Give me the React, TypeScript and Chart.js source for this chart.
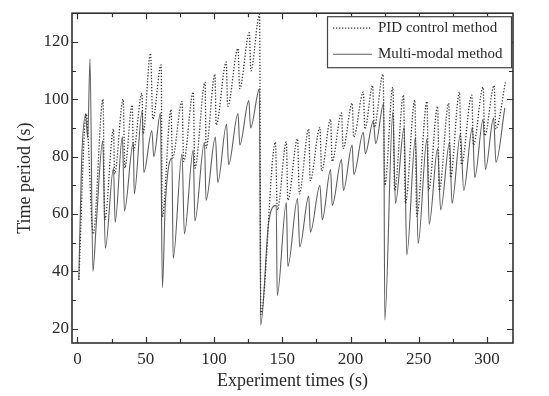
import React, { useEffect, useRef } from "react";
import { Chart, registerables } from "chart.js";

Chart.register(...registerables);

const xTicks = [0, 50, 100, 150, 200, 250, 300];
const yTicks = [20, 40, 60, 80, 100, 120];

const pidX = [1, 6.4, 7.2, 11.5, 18.7, 20, 26.4, 27.2, 33.5, 34.7, 40.1, 41, 47.2, 48.1, 53.5, 55.2, 61.3, 62.1,
  68.5, 69.6, 76.6, 77.8, 84.8, 86, 93.5, 94.2, 100.7, 101.6, 109, 110, 117.6, 118.8, 125.9, 127, 133.4, 134.3,
  145, 146.4, 153, 154.1, 161.2, 162.5, 169.4, 170.5, 177.6, 178.8, 185.4, 186.5, 193.4, 194.6, 201.2, 202.3,
  209.4, 210.5, 216.2, 217.4, 223.8, 225.2, 231, 232.3, 238.8, 240.2, 247.1, 248.5, 256, 257.2, 263.8, 265,
  271.9, 273.2, 279.8, 281.2, 288.8, 290, 297.1, 298.3, 305.2, 306.4, 313.5];
const pidY = [37, 95, 92, 53, 100, 58, 89.6, 74, 100, 76, 98, 82, 102, 88, 116, 93, 112, 59,
  96.4, 79.5, 99.2, 78.3, 102.5, 76, 106, 83, 108.7, 91, 113, 97.5, 117.7, 103.7, 123.2, 109.9, 129.6, 25,
  85, 61.4, 85.1, 64.8, 86.2, 67, 89.6, 71.6, 90.2, 75, 93, 78.3, 95.2, 82.8, 98.6, 86.8,
  102.5, 89.6, 104.8, 90.2, 108.7, 70, 104.2, 68.2, 101.4, 63.7, 99.7, 59.2, 99.2, 68.2, 97.5, 68.2,
  98.6, 72.7, 102.5, 77.2, 101.4, 84, 104.2, 87.3, 104.8, 89.6, 106];

const mmX = [1, 3, 6, 7.5, 9.2, 11.3, 13.7, 18.5, 20.4, 26.4, 27.6, 32.9, 34.4, 40.9, 41.6, 47.4, 48.6, 54.5, 55.9,
  60.8, 62.2, 64.3, 69.2, 70.1, 76.6, 78.3, 84.8, 86, 93, 94.2, 101, 102.8, 109.2, 110.7, 117.6, 118.9, 125.5,
  126.8, 133.3, 134.2, 140, 145.6, 146.3, 153, 154.1, 161.2, 162.8, 169.4, 170.6, 177.6, 179.3, 185.4, 186.6,
  193.4, 194.8, 201.2, 202.4, 209.4, 210.8, 216.7, 218.4, 224.3, 225.1, 231, 232.9, 239.3, 241.2, 247.6, 249.5,
  256, 257.6, 263.8, 266, 272.6, 274.3, 280.5, 282.9, 289.3, 291, 297.1, 298.8, 304.8, 306.5, 313];
const mmY = [37, 78, 94.5, 86.5, 114, 40, 56, 85.5, 48, 76, 57, 87, 61, 85, 67, 96, 74.5, 89, 80,
  95.3, 34.3, 63, 79.5, 44.5, 81, 53, 82.3, 57.5, 85, 64.8, 86.8, 71, 91.3, 77.2, 95, 84, 99.5,
  90, 103.6, 21.2, 57, 63, 31.5, 64, 41.7, 65.4, 48.5, 66.2, 53.6, 70, 58, 75.5, 63,
  79, 68.2, 84, 73.8, 88.5, 81, 92.4, 84.5, 98.6, 23, 95.5, 63.7, 90.2, 45.7, 86.8, 49.6,
  86.2, 56.4, 82.8, 61.4, 85.1, 63.7, 87.9, 68.2, 90.2, 72.7, 93, 75.5, 93.5, 78, 97];

const seriesNames = ["PID control method", "Multi-modal method"];

const FONT = "'Liberation Serif', 'Times New Roman', serif";
const INK = "#2a2a2a";
const PID_COLOR = "#3a3a3a";
const MM_COLOR = "#5e5e5e";
const PID_DASH = [1.3, 1.7];

const frameTicks = {
  id: "frameTicks",
  afterDatasetsDraw(chart: any) {
    const { ctx, chartArea: a, scales } = chart;
    const x = scales.x;
    const y = scales.y;
    ctx.save();
    ctx.strokeStyle = "#303030";
    ctx.lineWidth = 1.2;
    for (let v = 0; v <= x.max; v += 25) {
      const px = Math.round(x.getPixelForValue(v)) + 0.5;
      const len = v % 50 === 0 ? 6 : 4;
      ctx.beginPath();
      ctx.moveTo(px, a.bottom);
      ctx.lineTo(px, a.bottom - len);
      ctx.moveTo(px, a.top);
      ctx.lineTo(px, a.top + len);
      ctx.stroke();
    }
    for (let v = 20; v <= y.max; v += 10) {
      const py = Math.round(y.getPixelForValue(v)) + 0.5;
      const len = v % 20 === 0 ? 6 : 4;
      ctx.beginPath();
      ctx.moveTo(a.left, py);
      ctx.lineTo(a.left + len, py);
      ctx.moveTo(a.right, py);
      ctx.lineTo(a.right - len, py);
      ctx.stroke();
    }
    ctx.lineWidth = 1.6;
    ctx.strokeRect(a.left, a.top, a.right - a.left, a.bottom - a.top);

    // legend box
    const bx = a.right - 186;
    const by = a.top + 3;
    const bw = 184;
    const bh = 51;
    ctx.fillStyle = "#ffffff";
    ctx.fillRect(bx, by, bw, bh);
    ctx.lineWidth = 1.2;
    ctx.strokeStyle = "#444";
    ctx.strokeRect(bx + 0.5, by + 0.5, bw, bh);
    const rows = [by + 12, by + 38];
    ctx.font = `15px ${FONT}`;
    ctx.textBaseline = "middle";
    ctx.fillStyle = INK;
    rows.forEach((ry, i) => {
      ctx.beginPath();
      ctx.strokeStyle = i === 0 ? PID_COLOR : MM_COLOR;
      ctx.lineWidth = i === 0 ? 1.3 : 1.1;
      ctx.setLineDash(i === 0 ? PID_DASH : []);
      ctx.moveTo(bx + 6, ry);
      ctx.lineTo(bx + 45, ry);
      ctx.stroke();
      ctx.setLineDash([]);
      ctx.fillText(seriesNames[i], bx + 51, ry);
    });
    ctx.restore();
  },
};

export default function App() {
  const ref = useRef<HTMLCanvasElement | null>(null);
  useEffect(() => {
    if (!ref.current) return;
    const chart = new Chart(ref.current, {
      type: "line",
      data: {
        datasets: [
          {
            label: seriesNames[0],
            data: pidX.map((x, i) => ({ x, y: pidY[i] })),
            borderColor: PID_COLOR,
            borderWidth: 1.3,
            borderDash: PID_DASH,
            pointRadius: 0,
            cubicInterpolationMode: "monotone",
            fill: false,
          },
          {
            label: seriesNames[1],
            data: mmX.map((x, i) => ({ x, y: mmY[i] })),
            borderColor: MM_COLOR,
            borderWidth: 1.1,
            pointRadius: 0,
            cubicInterpolationMode: "monotone",
            fill: false,
          },
        ],
      },
      options: {
        animation: false,
        responsive: false,
        layout: { padding: { top: 4, right: 36, left: 0, bottom: 0 } },
        plugins: { legend: { display: false }, tooltip: { enabled: false } },
        scales: {
          x: {
            type: "linear",
            min: -4,
            max: 319,
            afterBuildTicks: (s: any) => {
              s.ticks = xTicks.map((v) => ({ value: v }));
            },
            afterFit: (s: any) => {
              s.height = 53;
            },
            grid: { display: false, drawTicks: false },
            border: { display: false },
            ticks: {
              padding: 6,
              autoSkip: false,
              maxRotation: 0,
              color: INK,
              font: { family: FONT, size: 17 },
            },
            title: {
              display: true,
              text: "Experiment times (s)",
              color: INK,
              font: { family: FONT, size: 18 },
              padding: { top: 0, bottom: 4 },
            },
          },
          y: {
            type: "linear",
            min: 15,
            max: 130,
            afterBuildTicks: (s: any) => {
              s.ticks = yTicks.map((v) => ({ value: v }));
            },
            afterFit: (s: any) => {
              s.width = 72;
            },
            grid: { display: false, drawTicks: false },
            border: { display: false },
            ticks: {
              padding: 3,
              color: INK,
              font: { family: FONT, size: 17 },
            },
            title: {
              display: true,
              text: "Time period (s)",
              color: INK,
              font: { family: FONT, size: 18 },
              padding: { top: 14, bottom: 0 },
            },
          },
        },
      },
      plugins: [frameTicks],
    });
    return () => chart.destroy();
  }, []);
  return (
    <div style={{ position: "fixed", left: 0, top: 0, width: 549, height: 396, background: "#fff" }}>
      <canvas ref={ref} width={549} height={396} style={{ display: "block" }} />
    </div>
  );
}
